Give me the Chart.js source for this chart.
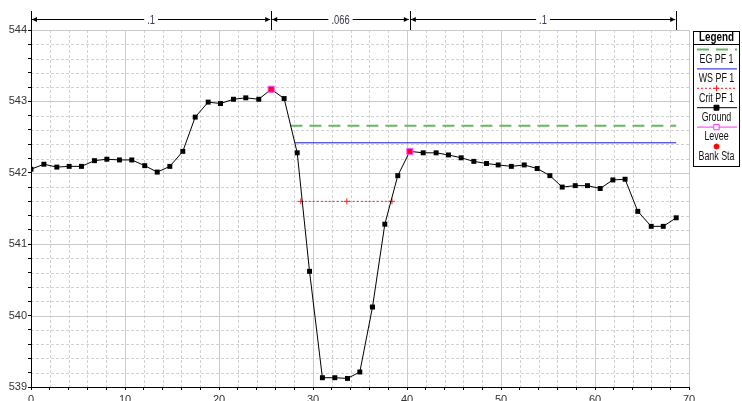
<!DOCTYPE html>
<html>
<head>
<meta charset="utf-8">
<script src="https://cdn.jsdelivr.net/npm/chart.js@4.4.0/dist/chart.umd.min.js"></script>
<style>
  html, body { margin: 0; padding: 0; background: #fff; }
  #wrap { width: 742px; height: 401px; }
</style>
</head>
<body>
<div id="wrap"><canvas id="xs"></canvas></div>
<script>
// ground profile (station, elevation)
const groundX = [0, 1.37, 2.75, 4.06, 5.37, 6.75, 8.07, 9.41, 10.72, 12.1, 13.43, 14.77, 16.15, 17.47, 18.85, 20.16, 21.54, 22.85, 24.23, 25.55, 26.93, 28.32, 29.63, 31.0, 32.32, 33.67, 34.98, 36.33, 37.64, 39.02, 40.3, 41.72, 43.1, 44.41, 45.76, 47.11, 48.46, 49.7, 51.1, 52.47, 53.85, 55.2, 56.51, 57.9, 59.2, 60.55, 61.9, 63.2, 64.55, 65.98, 67.26, 68.64];
const groundY = [542.05, 542.12, 542.08, 542.09, 542.09, 542.17, 542.19, 542.18, 542.18, 542.10, 542.01, 542.09, 542.30, 542.78, 542.99, 542.97, 543.03, 543.05, 543.03, 543.17, 543.04, 542.28, 540.62, 539.13, 539.13, 539.12, 539.21, 540.12, 541.28, 541.96, 542.30, 542.28, 542.28, 542.25, 542.21, 542.16, 542.13, 542.11, 542.09, 542.11, 542.06, 541.96, 541.80, 541.82, 541.82, 541.78, 541.90, 541.91, 541.46, 541.25, 541.25, 541.37];

// bank stations
const bankX = [25.55, 40.3];
const bankY = [543.17, 542.30];

// water surfaces
const egX = [27.6, 68.64];
const egY = [542.66, 542.66];
const wsX = [28.1, 68.64];
const wsY = [542.42, 542.42];
const critX = [28.7, 33.6, 38.4];
const critY = [541.60, 541.60, 541.60];

// manning's n
const nStations = [0, 25.55, 40.3, 68.64];
const nValues = ['.1', '.066', '.1'];

// tick labels
const xLabels = [0, 10, 20, 30, 40, 50, 60, 70];
const yLabels = [539, 540, 541, 542, 543, 544];

const FONT = "'Liberation Sans', Arial, sans-serif";

function pts(xs, ys) {
    return xs.map((x, i) => ({ x: x, y: ys[i] }));
}

// text squeezed sideways, the way the plot program prints it
function narrowText(ctx, text, x, y, sx) {
    ctx.save();
    ctx.translate(x, y);
    ctx.scale(sx, 1);
    ctx.fillText(text, 0, 0);
    ctx.restore();
}

// dashed background grid
const gridPlugin = {
    id: 'grid',
    beforeDraw(chart) {
        const { ctx, chartArea: a, scales: { x, y } } = chart;
        ctx.save();
        ctx.lineWidth = 1;
        x.ticks.forEach(t => {
            const px = Math.round(x.getPixelForValue(t.value)) + 0.5;
            const major = Math.abs(t.value / 10 - Math.round(t.value / 10)) < 1e-6;
            ctx.strokeStyle = major ? '#cbcbcb' : '#d2d2d2';
            ctx.setLineDash(major ? [] : [3, 2]);
            ctx.beginPath(); ctx.moveTo(px, a.top); ctx.lineTo(px, a.bottom); ctx.stroke();
        });
        y.ticks.forEach(t => {
            const py = Math.round(y.getPixelForValue(t.value)) + 0.5;
            const major = Math.abs(t.value - Math.round(t.value)) < 1e-6;
            ctx.strokeStyle = major ? '#cbcbcb' : '#d2d2d2';
            ctx.setLineDash(major ? [] : [3, 2]);
            ctx.beginPath(); ctx.moveTo(a.left, py); ctx.lineTo(a.right, py); ctx.stroke();
        });
        ctx.restore();
    }
};

function arrow(ctx, x, y, dir) {
    ctx.beginPath();
    ctx.moveTo(x, y);
    ctx.lineTo(x - dir * 5, y - 2.5);
    ctx.lineTo(x - dir * 5, y + 2.5);
    ctx.closePath();
    ctx.fill();
}

// n-value bar above the plot
const nBarPlugin = {
    id: 'nbar',
    afterDraw(chart) {
        const { ctx, chartArea: a, scales: { x } } = chart;
        const yBar = a.top - 10.5;
        const yTop = a.top - 19;
        ctx.save();
        ctx.strokeStyle = '#000';
        ctx.fillStyle = '#000';
        ctx.lineWidth = 1;
        // axis line extension
        ctx.beginPath(); ctx.moveTo(a.left + 0.5, yTop); ctx.lineTo(a.left + 0.5, a.top); ctx.stroke();
        ctx.font = '12px ' + FONT;
        ctx.textAlign = 'center';
        ctx.textBaseline = 'middle';
        for (let i = 0; i < nValues.length; i++) {
            const x0 = x.getPixelForValue(nStations[i]) + 1;
            const x1 = x.getPixelForValue(nStations[i + 1]) - 1;
            ctx.fillStyle = '#000';
            ctx.beginPath(); ctx.moveTo(x0, yBar); ctx.lineTo(x1, yBar); ctx.stroke();
            arrow(ctx, x0, yBar, -1);
            arrow(ctx, x1, yBar, 1);
            const cx = (x0 + x1) / 2;
            const w = ctx.measureText(nValues[i]).width * 0.78 + 6;
            ctx.fillStyle = '#fff';
            ctx.fillRect(cx - w / 2, yBar - 6, w, 12);
            ctx.fillStyle = '#3a3a50';
            narrowText(ctx, nValues[i], cx, yBar + 1, 0.78);
        }
        for (let i = 1; i < nStations.length; i++) {
            const px = Math.round(x.getPixelForValue(nStations[i])) + 0.5;
            ctx.beginPath(); ctx.moveTo(px, yTop); ctx.lineTo(px, a.top); ctx.stroke();
        }
        ctx.restore();
    }
};

// boxed legend on the right
const legendPlugin = {
    id: 'boxlegend',
    afterDraw(chart) {
        const { ctx, chartArea: a } = chart;
        const left = a.right + 4, right = 740, top = 31, bottom = 166;
        const cx = (left + right) / 2;
        ctx.save();
        ctx.strokeStyle = '#000';
        ctx.lineWidth = 1;
        ctx.strokeRect(left + 0.5, top + 0.5, right - left - 1, bottom - top);
        ctx.fillStyle = '#000';
        ctx.textAlign = 'center';
        ctx.textBaseline = 'middle';
        ctx.font = 'bold 12px ' + FONT;
        narrowText(ctx, 'Legend', cx, top + 6.5, 0.82);
        ctx.beginPath(); ctx.moveTo(left, top + 13.5); ctx.lineTo(right, top + 13.5); ctx.stroke();
        ctx.font = '12px ' + FONT;
        chart.data.datasets.forEach((ds, i) => {
            const sy = 49.5 + i * 19.4;
            if (ds.showLine !== false) {
                ctx.save();
                ctx.strokeStyle = ds.borderColor;
                ctx.lineWidth = ds.borderWidth;
                ctx.setLineDash(ds.borderDash || []);
                ctx.beginPath(); ctx.moveTo(left + 4, sy); ctx.lineTo(right - 3, sy); ctx.stroke();
                ctx.restore();
            }
            const style = ds.legendPoint || ds.pointStyle;
            const r = ds.legendRadius || 0;
            if (r > 0) {
                ctx.save();
                ctx.fillStyle = ds.legendFill || ds.pointBackgroundColor;
                ctx.strokeStyle = ds.legendStroke || ds.pointBorderColor;
                ctx.lineWidth = 1;
                Chart.helpers.drawPoint(ctx, { pointStyle: style, radius: r, rotation: 0, borderWidth: 1 }, cx, sy);
                ctx.restore();
            }
            ctx.fillStyle = '#111';
            narrowText(ctx, ds.label, cx, sy + 10, 0.74);
        });
        ctx.restore();
    }
};

new Chart(document.getElementById('xs'), {
    type: 'scatter',
    data: {
        datasets: [
            {
                label: 'EG PF 1',
                data: pts(egX, egY),
                showLine: true,
                borderColor: '#66b866',
                borderWidth: 2,
                borderDash: [12, 7],
                pointRadius: 0,
                order: 5
            },
            {
                label: 'WS PF 1',
                data: pts(wsX, wsY),
                showLine: true,
                borderColor: '#1a1ad8',
                borderWidth: 1,
                pointRadius: 0,
                order: 4
            },
            {
                label: 'Crit PF 1',
                data: pts(critX, critY),
                showLine: true,
                borderColor: '#ff2020',
                borderWidth: 1,
                borderDash: [2, 2],
                pointStyle: 'cross',
                pointRadius: 3,
                pointBorderColor: '#ff2020',
                pointBackgroundColor: '#ff2020',
                pointBorderWidth: 1,
                legendRadius: 3,
                order: 3
            },
            {
                label: 'Ground',
                data: pts(groundX, groundY),
                showLine: true,
                borderColor: '#000',
                borderWidth: 1,
                pointStyle: 'rect',
                pointRadius: 3.5,
                pointBackgroundColor: '#000',
                pointBorderColor: '#000',
                pointBorderWidth: 0,
                legendRadius: 3.5,
                order: 1
            },
            {
                label: 'Levee',
                data: [],
                showLine: true,
                borderColor: '#ff33ff',
                borderWidth: 1,
                pointStyle: 'rect',
                pointRadius: 3.5,
                pointBackgroundColor: '#fff',
                pointBorderColor: '#ff33ff',
                pointBorderWidth: 1,
                legendRadius: 3.8,
                order: 2
            },
            {
                label: 'Bank Sta',
                data: pts(bankX, bankY),
                showLine: false,
                pointStyle: 'rect',
                pointRadius: 4.3,
                pointBackgroundColor: '#ff0033',
                pointBorderColor: '#ff55ff',
                pointBorderWidth: 1,
                legendPoint: 'circle',
                legendRadius: 2.5,
                legendFill: '#ff0000',
                legendStroke: '#ff0000',
                order: 0
            }
        ]
    },
    options: {
        responsive: true,
        maintainAspectRatio: false,
        animation: false,
        devicePixelRatio: 1,
        layout: { padding: { top: 30, right: 53, left: 0, bottom: 0 } },
        plugins: {
            legend: { display: false },
            tooltip: { enabled: false }
        },
        scales: {
            x: {
                type: 'linear',
                min: 0,
                max: 70,
                afterFit(scale) { scale.height = 14; },
                border: { display: true, color: '#000', width: 1 },
                grid: { drawOnChartArea: false, drawTicks: true, tickLength: 3, color: '#000' },
                ticks: {
                    stepSize: 2,
                    autoSkip: false,
                    maxRotation: 0,
                    padding: 3,
                    color: '#333',
                    font: { family: FONT, size: 11 },
                    callback: v => xLabels.includes(Math.round(v)) && Math.abs(v - Math.round(v)) < 1e-6 ? String(Math.round(v)) : ''
                }
            },
            y: {
                type: 'linear',
                min: 539,
                max: 544,
                afterFit(scale) { scale.width = 31; },
                border: { display: true, color: '#000', width: 1 },
                grid: { drawOnChartArea: false, drawTicks: true, tickLength: 3, color: '#000' },
                ticks: {
                    stepSize: 0.2,
                    autoSkip: false,
                    padding: 1,
                    color: '#333',
                    font: { family: FONT, size: 11 },
                    callback: v => yLabels.includes(Math.round(v)) && Math.abs(v - Math.round(v)) < 1e-6 ? String(Math.round(v)) : ''
                }
            }
        }
    },
    plugins: [gridPlugin, nBarPlugin, legendPlugin]
});
</script>
</body>
</html>
